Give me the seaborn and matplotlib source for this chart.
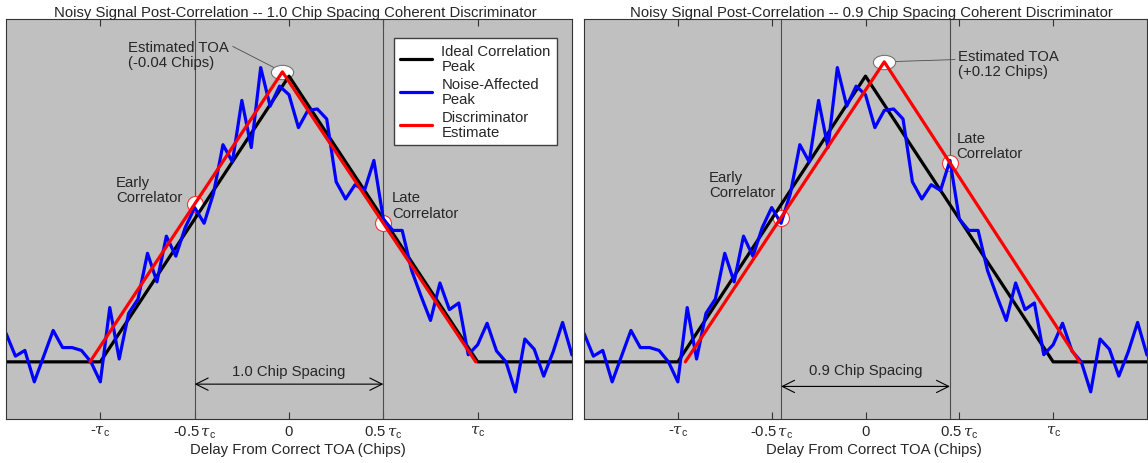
import numpy as np
import matplotlib
matplotlib.use("Agg")
import matplotlib.pyplot as plt
import seaborn as sns
from matplotlib.path import Path
from matplotlib.transforms import Affine2D
from matplotlib.lines import Line2D

# ---------------- data ----------------
delay = np.linspace(-1.5, 1.5, 61)  # sample grid (chips)
noisy_peak = [0.10, 0.02, 0.04, -0.07, 0.02, 0.11, 0.05, 0.05, 0.04, 0.00,
              -0.07, 0.19, 0.01, 0.17, 0.22, 0.38, 0.28, 0.44, 0.37, 0.47,
              0.54, 0.485, 0.59, 0.76, 0.70, 0.915, 0.75, 1.03, 0.895, 0.965,
              0.935, 0.82, 0.88, 0.885, 0.85, 0.63, 0.57, 0.62, 0.60, 0.705,
              0.50, 0.46, 0.46, 0.32, 0.23, 0.145, 0.276, 0.183, 0.206, 0.025,
              0.06, 0.135, 0.038, 0.0, -0.105, 0.08, 0.044, -0.05, 0.035, 0.138,
              0.024]

ideal_x = [-1.5, -1.0, 0.0, 1.0, 1.5]
ideal_y = [0.0, 0.0, 1.0, 0.0, 0.0]

spacings = [1.0, 0.9]
est_toa = ["-0.04", "+0.12"]
red_x = [[-1.055, -0.035, 0.99], [-0.96, 0.10, 1.14]]
red_y = [[0.0, 1.015, 0.0], [0.0, 1.05, 0.0]]

xtick_vals = [-1.0, -0.5, 0.0, 0.5, 1.0]
xtick_labels = [r"-$\tau_{\mathsf{c}}$", r"-0.5$\,\tau_{\mathsf{c}}$", "0",
                r"0.5$\,\tau_{\mathsf{c}}$", r"$\tau_{\mathsf{c}}$"]
legend_labels = ["Ideal Correlation\nPeak", "Noise-Affected\nPeak",
                 "Discriminator\nEstimate"]

# ---------------- style ----------------
sns.set_theme(style="white")
plt.rcParams["font.family"] = ["Liberation Sans", "DejaVu Sans"]
plt.rcParams["mathtext.fontset"] = "custom"
plt.rcParams["mathtext.rm"] = "Liberation Sans"
plt.rcParams["mathtext.sf"] = "Liberation Sans"
plt.rcParams["mathtext.it"] = "DejaVu Serif:italic"
FS = 10.7
LS = 1.1

W, H = 1148, 464
fig = plt.figure(figsize=(W / 100, H / 100), dpi=100)
axes = [fig.add_axes([6 / W, 44 / H, 566 / W, 400 / H]),
        fig.add_axes([584 / W, 44 / H, 563 / W, 400 / H])]

ellipse_marker = Path.unit_circle().transformed(Affine2D().scale(1.55, 1.0))

# per-panel layout of annotation text (positions only)
layout = [
    dict(toa_text=(-0.856, 1.128), toa_line=(-0.298, 1.104),
         early_text=(-0.917, 0.655), late_text=(0.546, 0.60),
         arrow_y=-0.078, sp_text=(0.0, -0.032), title_x=0.512, xlabel_x=0.516),
    dict(toa_text=(0.495, 1.095), toa_line=(0.477, 1.058),
         early_text=(-0.833, 0.672), late_text=(0.486, 0.808),
         arrow_y=-0.086, sp_text=(0.0, -0.028), title_x=0.51, xlabel_x=0.515),
]

for i, ax in enumerate(axes):
    sp = spacings[i]
    lay = layout[i]
    rx, ry = red_x[i], red_y[i]
    ax.set_facecolor("#c0c0c0")

    # early / late correlator positions
    for s in (-sp / 2, sp / 2):
        ax.axvline(s, color="0.3", lw=0.8, zorder=1)
    corr_x = [-sp / 2, sp / 2]
    corr_y = list(np.interp(corr_x, rx, ry))
    ax.plot(corr_x, corr_y, ls="none", marker="o", ms=11.5, mfc="white",
            mec="#ff3030", mew=0.8, zorder=1.5)

    # estimated TOA marker
    pk = int(np.argmax(ry))
    ax.plot([rx[pk]], [ry[pk]], ls="none", marker=ellipse_marker, ms=16,
            mfc="white", mec="0.45", mew=0.8, zorder=1.5)

    # curves
    sns.lineplot(x=ideal_x, y=ideal_y, ax=ax, color="black", lw=2.3,
                 zorder=2, sort=False)
    sns.lineplot(x=delay, y=noisy_peak, ax=ax, color="#0000ff", lw=2.3,
                 zorder=2.1, sort=False)
    sns.lineplot(x=rx, y=ry, ax=ax, color="#ff0000", lw=2.3, zorder=2.2,
                 sort=False)

    # annotations
    ax.annotate("", xy=(rx[pk], ry[pk]), xytext=lay["toa_line"],
                arrowprops=dict(arrowstyle="-", color="0.3", lw=0.6,
                                shrinkA=0, shrinkB=0), zorder=1.4)
    ax.text(*lay["toa_text"], f"Estimated TOA\n({est_toa[i]} Chips)",
            ha="left", va="top", fontsize=FS, linespacing=LS)
    ax.text(*lay["early_text"], "Early\nCorrelator", ha="left", va="top",
            fontsize=FS, linespacing=LS)
    ax.text(*lay["late_text"], "Late\nCorrelator", ha="left", va="top",
            fontsize=FS, linespacing=LS)

    ax.annotate("", xy=(sp / 2, lay["arrow_y"]), xytext=(-sp / 2, lay["arrow_y"]),
                arrowprops=dict(arrowstyle="<->", color="black", lw=0.8,
                                shrinkA=0, shrinkB=0, mutation_scale=22))
    ax.text(*lay["sp_text"], f"{sp:.1f} Chip Spacing", ha="center",
            va="center", fontsize=FS)

    # axes
    ax.set_xlim(-1.5, 1.5)
    ax.set_ylim(-0.2, 1.2)
    ax.set_yticks([])
    ax.set_xticks(xtick_vals)
    ax.set_xticklabels(xtick_labels, fontsize=FS)
    ax.tick_params(axis="x", direction="in", top=True, bottom=True,
                   length=5, width=0.8, color="0.2", pad=3.5)
    for s in ax.spines.values():
        s.set_color("0.2")
        s.set_linewidth(0.8)
    ax.set_xlabel("Delay From Correct TOA (Chips)", fontsize=FS, labelpad=1.5)
    ax.xaxis.label.set_x(lay["xlabel_x"])
    ax.set_title(f"Noisy Signal Post-Correlation -- {sp:.1f} Chip Spacing "
                 f"Coherent Discriminator", fontsize=FS, x=lay["title_x"], pad=2)

handles = [Line2D([], [], color=c, lw=2.3) for c in ("black", "#0000ff", "#ff0000")]
leg = axes[0].legend(handles, legend_labels, loc="upper right",
                     bbox_to_anchor=(0.973, 0.952), borderaxespad=0,
                     frameon=True, fancybox=False, framealpha=1,
                     edgecolor="0.25", fontsize=FS, handlelength=2.2,
                     handletextpad=0.6, labelspacing=0.25, borderpad=0.4)
leg.get_frame().set_linewidth(1.0)
for t in leg.get_texts():
    t.set_linespacing(LS)
if axes[1].get_legend() is not None:
    axes[1].get_legend().remove()

fig.savefig("out.png", dpi=100, facecolor="white")
